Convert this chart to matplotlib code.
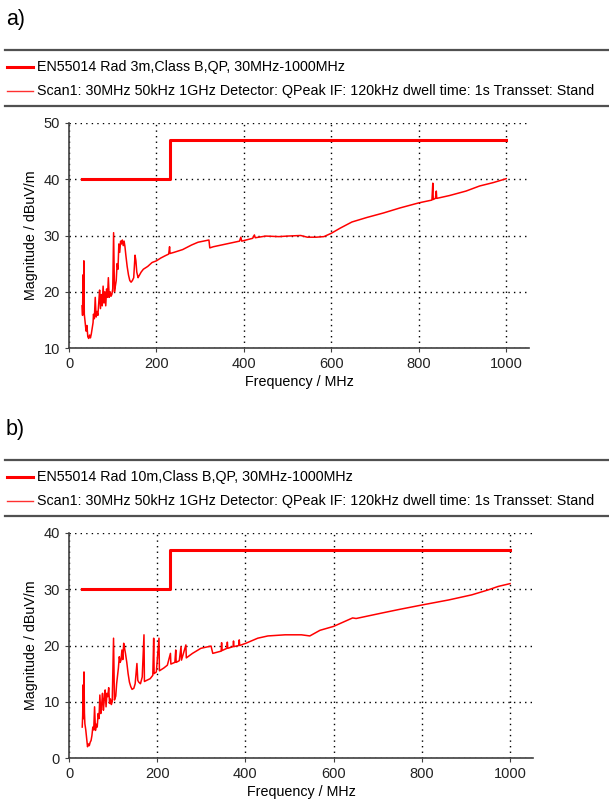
import matplotlib
matplotlib.use("Agg")
import matplotlib.pyplot as plt
from matplotlib.lines import Line2D

plt.rcParams['font.family'] = ['Liberation Sans', 'DejaVu Sans']

# limit lines (MHz, dBuV/m)
limit_freq = [30, 230, 230, 1000]
limit_a = [40, 40, 47, 47]
limit_b = [30, 30, 37, 37]

# scan a (3m)
freq_a = [30, 31, 32, 33, 34, 35, 37, 39, 41, 43, 45, 47, 49, 51, 53, 55, 56, 58,
          60, 62, 64, 66, 68, 70, 72, 74, 76, 78, 80, 82, 84, 86, 88, 90, 92, 94,
          96, 98, 100, 102, 104, 106, 108, 110, 112, 114, 116, 118, 120, 122, 124,
          126, 128, 130, 133, 136, 139, 142, 145, 148, 151, 153, 155, 158, 160,
          165, 170, 180, 190, 200, 210, 220, 228, 230, 231, 240, 260, 280, 295,
          320, 322, 330, 360, 390, 393, 395, 420, 424, 426, 450, 480, 500, 530,
          545, 565, 583, 600, 620, 647, 681, 719, 757, 800, 830, 832, 833, 838,
          840, 841, 870, 908, 939, 970, 1000]
scan_a = [17.5, 15.8, 23.0, 17.0, 25.5, 16.0, 14.5, 13.0, 14.0, 12.0, 11.7, 12.3,
          11.8, 12.5, 13.5, 14.5, 16.0, 15.2, 19.0, 15.5, 16.5, 15.8, 18.0, 20.3,
          17.0, 19.5, 17.5, 21.0, 18.0, 20.0, 17.5, 20.5, 19.0, 22.5, 19.0, 20.0,
          19.2, 19.5, 20.5, 30.5, 20.0, 21.0, 22.0, 25.0, 24.0, 28.5, 27.0, 29.0,
          28.5, 29.2, 28.2, 29.0, 28.0, 26.5, 24.5, 23.0, 22.0, 21.7, 22.0, 22.5,
          26.5, 25.5, 23.5, 22.5, 22.8, 23.5, 24.0, 24.5, 25.2, 25.5, 26.0, 26.4,
          26.7, 28.0, 26.8, 27.0, 27.5, 28.3, 28.8, 29.2, 27.8, 28.0, 28.5, 29.0,
          29.7, 29.0, 29.5, 30.1, 29.6, 29.9, 29.8, 29.9, 30.0, 29.7, 29.7, 29.8,
          30.4, 31.3, 32.4, 33.2, 34.0, 34.9, 35.8, 36.3, 39.3, 36.4, 36.6, 37.9,
          36.6, 37.1, 37.9, 38.8, 39.4, 40.1]

# scan b (10m)
freq_b = [30, 31, 32, 33, 34, 35, 36, 38, 40, 42, 44, 46, 48, 50, 52, 54, 56, 58,
          60, 62, 64, 66, 68, 70, 72, 74, 76, 78, 80, 82, 84, 86, 88, 90, 92, 94,
          96, 98, 101, 103, 106, 108, 112, 114, 116, 118, 120, 122, 124, 126, 128,
          131, 134, 137, 140, 143, 147, 150, 154, 156, 158, 162, 166, 170, 171,
          176, 184, 190, 192, 193, 198, 204, 205, 215, 223, 230, 231, 240, 242,
          243, 250, 254, 255, 265, 266, 280, 299, 322, 326, 345, 346, 347, 358,
          359, 360, 372, 373, 374, 385, 386, 387, 401, 428, 451, 490, 527, 546,
          569, 600, 643, 651, 711, 748, 800, 861, 913, 951, 973, 1000]
scan_b = [5.5, 7.5, 13.0, 7.0, 15.3, 8.0, 6.1, 5.0, 3.5, 2.0, 2.5, 2.2, 2.8, 3.1,
          4.0, 5.5, 5.0, 9.1, 4.9, 6.0, 5.5, 7.9, 7.0, 11.2, 7.9, 9.5, 11.5, 8.5,
          10.5, 12.1, 9.1, 11.5, 10.9, 12.5, 9.7, 10.5, 9.5, 10.0, 21.3, 10.3,
          11.0, 13.2, 16.0, 18.0, 17.0, 17.4, 19.2, 17.5, 20.4, 19.5, 18.6, 17.0,
          15.0, 13.5, 12.7, 12.2, 12.4, 13.2, 16.8, 13.8, 13.5, 13.2, 14.4, 21.9,
          13.6, 13.8, 14.1, 14.7, 21.3, 15.0, 15.3, 21.3, 15.5, 16.0, 16.5, 18.6,
          16.7, 17.0, 19.2, 17.0, 17.3, 19.8, 17.4, 20.1, 17.8, 18.6, 19.5, 19.9,
          18.6, 19.0, 20.5, 19.1, 19.5, 20.6, 19.5, 19.8, 20.8, 19.8, 20.0, 21.0,
          20.0, 20.4, 21.3, 21.7, 21.9, 21.9, 21.7, 22.7, 23.4, 24.9, 24.8, 25.8,
          26.4, 27.2, 28.1, 29.0, 29.9, 30.5, 31.0]

leg_limit_a = "EN55014 Rad 3m,Class B,QP, 30MHz-1000MHz"
leg_limit_b = "EN55014 Rad 10m,Class B,QP, 30MHz-1000MHz"
leg_scan = ("Scan1: 30MHz 50kHz 1GHz Detector: QPeak IF: 120kHz "
            "dwell time: 1s Transset: Stand")

W, H = 609, 800
fig = plt.figure(figsize=(W / 100, H / 100), dpi=100)


def px(x, y):
    return x / W, 1 - y / H


def legend_block(y_top, y_bot, label1, label2):
    for yy in (y_top, y_bot):
        fig.add_artist(Line2D([5 / W, 1], [1 - yy / H] * 2, color='#505050', lw=1.6))
    y1 = y_top + 17
    y2 = y_top + 41
    fig.add_artist(Line2D([7 / W, 33 / W], [1 - y1 / H] * 2, color='red', lw=2.2))
    fig.add_artist(Line2D([7 / W, 33 / W], [1 - y2 / H] * 2, color='#ff3030', lw=1.0))
    fig.text(*px(37, y1), label1, fontsize=10.3, va='center', ha='left')
    fig.text(*px(37, y2), label2, fontsize=10.3, va='center', ha='left')


def panel(rect, limit, freq, scan, ylim):
    ax = fig.add_axes(rect)
    ax.plot(limit_freq, limit, color='red', lw=2.2)
    ax.plot(freq, scan, color='red', lw=1.1)
    ax.set_xlim(0, 1052)
    ax.set_ylim(*ylim)
    ax.set_xticks([0, 200, 400, 600, 800, 1000])
    ax.set_yticks(range(ylim[0], ylim[1] + 1, 10))
    ax.grid(True, color='black', linestyle=(0, (1, 3)), lw=1)
    for s in ('top', 'right'):
        ax.spines[s].set_visible(False)
    for s in ('left', 'bottom'):
        ax.spines[s].set_color('#404040')
        ax.spines[s].set_linewidth(1.2)
    ax.tick_params(labelsize=10.5, direction='out', length=3, color='#404040',
                   labelcolor='#222222')
    ax.set_xlabel("Frequency / MHz", fontsize=10.3, labelpad=3)
    ax.set_ylabel("Magnitude / dBuV/m", fontsize=10.3, labelpad=4)
    return ax


fig.text(*px(6, 20), "a)", fontsize=15.5, va='center', ha='left')
legend_block(50, 106, leg_limit_a, leg_scan)
panel([69 / W, 1 - 348 / H, 460 / W, 225 / H], limit_a, freq_a, scan_a, (10, 50))

fig.text(*px(6, 430), "b)", fontsize=15.5, va='center', ha='left')
legend_block(460, 516, leg_limit_b, leg_scan)
panel([69 / W, 1 - 758 / H, 464 / W, 225 / H], limit_b, freq_b, scan_b, (0, 40))

fig.savefig("out.png", dpi=100)
